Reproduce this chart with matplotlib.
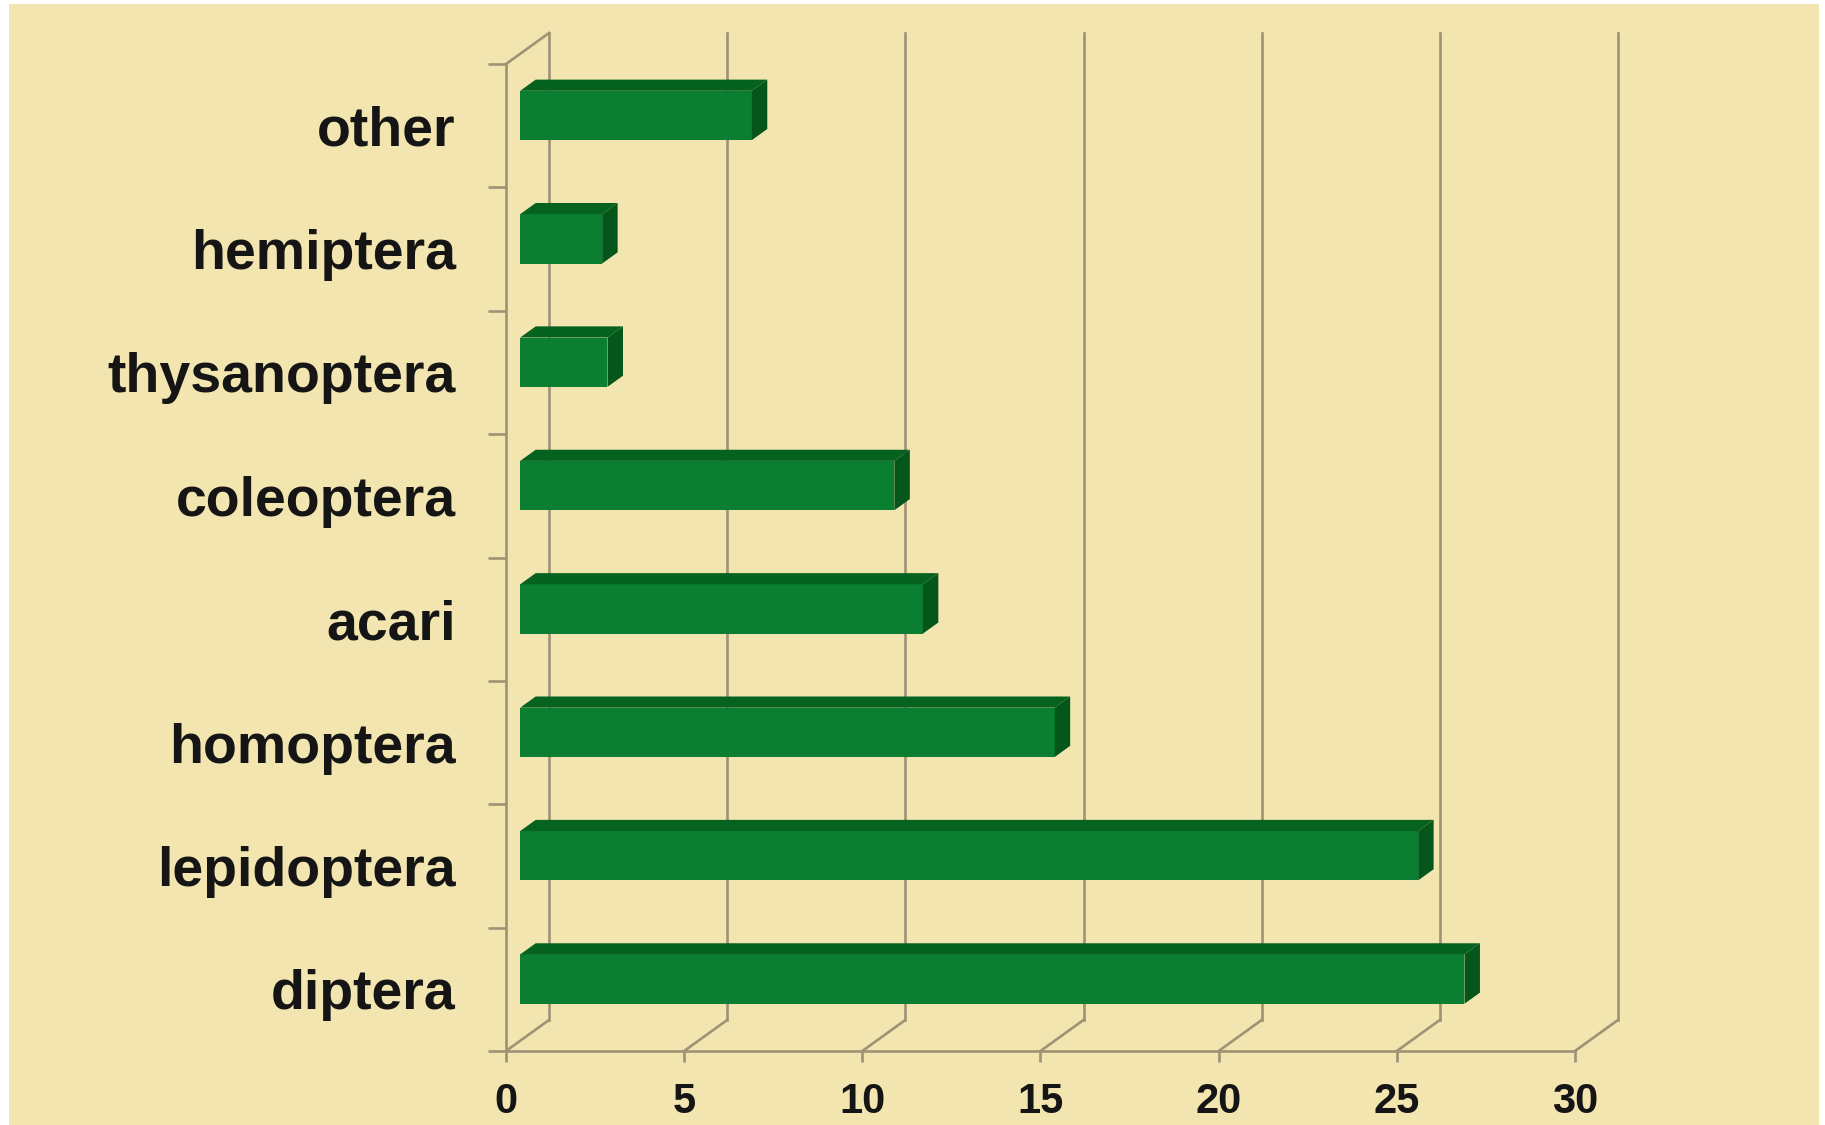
import matplotlib
matplotlib.use("Agg")
import matplotlib.pyplot as plt
from matplotlib.patches import Polygon, Rectangle
import numpy as np

# data, bottom to top
categories = ['diptera', 'lepidoptera', 'homoptera', 'acari',
              'coleoptera', 'thysanoptera', 'hemiptera', 'other']
values = [26.5, 25.2, 15.0, 11.3, 10.5, 2.45, 2.3, 6.5]
x_ticks = [0, 5, 10, 15, 20, 25, 30]

bg = '#F2E5B0'
line_col = '#A09274'
front_col = '#0B7F31'
top_col = '#06631F'
side_col = '#05561A'

plt.rcParams['font.family'] = ['Liberation Sans', 'DejaVu Sans']
plt.rcParams['font.weight'] = 'bold'

W, H = 1825, 1125
fig = plt.figure(figsize=(W / 100, H / 100), dpi=100, facecolor='white')
fig.patches.append(Rectangle((9 / W, 0), (1819 - 9) / W, (H - 4) / H,
                             transform=fig.transFigure, facecolor=bg,
                             edgecolor='none', zorder=-10))

# front plane of the chart in pixels
x0, x1, y_top, y_bot = 506, 1575, 64, 1051
ax = fig.add_axes([x0 / W, (H - y_bot) / H, (x1 - x0) / W, (y_bot - y_top) / H])
ax.set_facecolor('none')
ax.set_xlim(0, 30)
ax.set_ylim(-0.5, len(categories) - 0.5)

# depth offset of the back wall (px -> data units)
px_x = (x1 - x0) / 30
px_y = (y_bot - y_top) / len(categories)
DX = 43 / px_x
DY = 31 / px_y
lw = 1.9

# back grid lines + floor diagonals
ymin, ymax = -0.5, len(categories) - 0.5
for k in x_ticks:
    ax.plot([k + DX, k + DX], [ymin + DY, ymax + DY], color=line_col, lw=lw,
            clip_on=False, zorder=1)
    ax.plot([k, k + DX], [ymin, ymin + DY], color=line_col, lw=lw,
            clip_on=False, zorder=1)
ax.plot([0, DX], [ymax, ymax + DY], color=line_col, lw=lw, clip_on=False, zorder=1)

# bars: front face at depth d1, back at d2
d1, d2 = 0.33, 0.69
h = 0.40
y = np.arange(len(categories))
ax.barh(y + d1 * DY, values, height=h, left=d1 * DX, color=front_col,
        edgecolor='none', zorder=3)
for yi, v in zip(y, values):
    top = [(d1 * DX, yi + h / 2 + d1 * DY), (v + d1 * DX, yi + h / 2 + d1 * DY),
           (v + d2 * DX, yi + h / 2 + d2 * DY), (d2 * DX, yi + h / 2 + d2 * DY)]
    side = [(v + d1 * DX, yi - h / 2 + d1 * DY), (v + d2 * DX, yi - h / 2 + d2 * DY),
            (v + d2 * DX, yi + h / 2 + d2 * DY), (v + d1 * DX, yi + h / 2 + d1 * DY)]
    ax.add_patch(Polygon(top, closed=True, facecolor=top_col, edgecolor='none',
                         zorder=3, clip_on=False))
    ax.add_patch(Polygon(side, closed=True, facecolor=side_col, edgecolor='none',
                         zorder=3, clip_on=False))

# axes
for s in ['top', 'right']:
    ax.spines[s].set_visible(False)
for s in ['left', 'bottom']:
    ax.spines[s].set_color(line_col)
    ax.spines[s].set_linewidth(lw)
    ax.spines[s].set_zorder(2)

ax.set_xticks(x_ticks)
ax.set_xticklabels([str(t) for t in x_ticks], fontsize=30, fontweight='bold',
                   color='#151515')
ax.tick_params(axis='x', length=8, width=lw, color=line_col, pad=14)

ax.set_yticks(y)
ax.set_yticklabels(categories, fontsize=40, fontweight='bold', color='#151515')
ax.tick_params(axis='y', which='major', length=0, pad=36)
ax.set_yticks(np.arange(-0.5, len(categories)), minor=True)
ax.tick_params(axis='y', which='minor', length=13, width=lw, color=line_col)

fig.savefig('out.png', dpi=100, facecolor=fig.get_facecolor())
